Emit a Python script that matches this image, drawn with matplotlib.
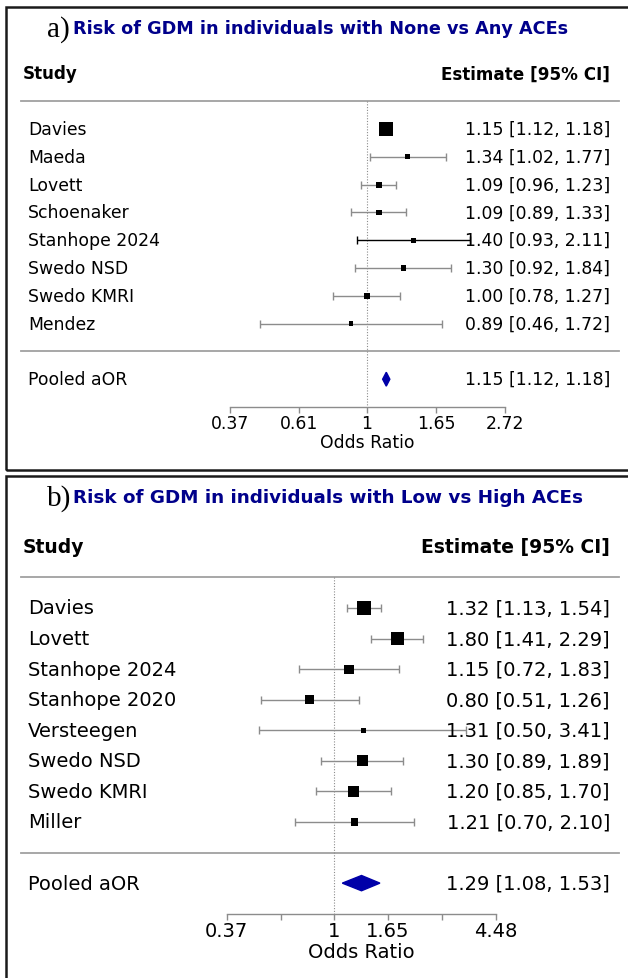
import numpy as np
import matplotlib
matplotlib.use("Agg")
import matplotlib.pyplot as plt
from matplotlib.patches import Polygon, Rectangle
from matplotlib.lines import Line2D
from matplotlib.ticker import NullLocator
import matplotlib.transforms as mtransforms

plt.rcParams['font.family'] = ['DejaVu Sans']

W, H, DPI = 628, 979, 100

# ---------------- data: panel a ----------------
title_a = "Risk of GDM in individuals with None vs Any ACEs"
studies_a = ["Davies", "Maeda", "Lovett", "Schoenaker", "Stanhope 2024",
             "Swedo NSD", "Swedo KMRI", "Mendez"]
or_a = [1.15, 1.34, 1.09, 1.09, 1.40, 1.30, 1.00, 0.89]
lo_a = [1.12, 1.02, 0.96, 0.89, 0.93, 0.92, 0.78, 0.46]
hi_a = [1.18, 1.77, 1.23, 1.33, 2.11, 1.84, 1.27, 1.72]
weight_a = [60, 2, 10, 7, 1.5, 4, 7, 1]
pooled_a = [1.15, 1.12, 1.18]
ticks_a = [0.37, 0.61, 1, 1.65, 2.72]
ticklabels_a = ["0.37", "0.61", "1", "1.65", "2.72"]

# ---------------- data: panel b ----------------
title_b = "Risk of GDM in individuals with Low vs High ACEs"
studies_b = ["Davies", "Lovett", "Stanhope 2024", "Stanhope 2020", "Versteegen",
             "Swedo NSD", "Swedo KMRI", "Miller"]
or_b = [1.32, 1.80, 1.15, 0.80, 1.31, 1.30, 1.20, 1.21]
lo_b = [1.13, 1.41, 0.72, 0.51, 0.50, 0.89, 0.85, 0.70]
hi_b = [1.54, 2.29, 1.83, 1.26, 3.41, 1.89, 1.70, 2.10]
weight_b = [22, 17, 10.5, 10, 1, 14, 14, 7]
pooled_b = [1.29, 1.08, 1.53]
ticks_b = [0.37, 0.61, 1, 1.65, 2.72, 4.48]
ticklabels_b = ["0.37", "", "1", "1.65", "", "4.48"]

fig = plt.figure(figsize=(W / DPI, H / DPI), dpi=DPI)
fig.patch.set_facecolor("white")

GRAY = "#8c8c8c"
NAVY = "#00008B"
DIAMOND = "#0000A8"


def panel(top_px, bot_px, first_row_px, row_px, one_px, unit_px, letter, title,
          studies, ors, los, his, weights, pooled, ticks, ticklabels,
          fs, head_fs, title_fs, letter_fs, side_min, side_max, dark_rows=()):
    ax = fig.add_axes([0, 1 - bot_px / H, 1, (bot_px - top_px) / H])
    ax.set_facecolor("none")
    ax.set_xscale("log")
    ax.set_xlim(np.exp((0 - one_px) / unit_px), np.exp((W - one_px) / unit_px))
    r_top = 1 + (top_px - first_row_px) / row_px
    r_bot = 1 + (bot_px - first_row_px) / row_px
    ax.set_ylim(r_bot, r_top)
    blend = mtransforms.blended_transform_factory(ax.transAxes, ax.transData)

    n = len(studies)
    rows = np.arange(1, n + 1)
    pooled_row = n + 2
    axis_row = n + 3

    # separators
    for yy in (0, n + 1):
        ax.add_line(Line2D([21 / W, 619 / W], [yy, yy], transform=blend,
                           color="#a0a0a0", lw=1.3, zorder=1))
    # reference line at OR = 1
    ax.plot([1, 1], [0, axis_row], color=GRAY, lw=0.8, ls=(0, (1, 1.5)), zorder=1)

    # CIs
    for i in range(n):
        c = "black" if i in dark_rows else GRAY
        ax.errorbar([ors[i]], [rows[i]], xerr=[[ors[i] - los[i]], [his[i] - ors[i]]],
                    fmt="none", ecolor=c, elinewidth=1.0, capsize=3.2,
                    capthick=1.0, zorder=2)
    # boxes
    w = np.asarray(weights, float)
    side_px = side_min + (w - w.min()) / (w.max() - w.min()) * (side_max - side_min)
    side_pt = side_px * 72 / DPI
    ax.scatter(ors, rows, marker="s", s=side_pt ** 2, color="black",
               linewidths=0, zorder=3)

    # pooled diamond
    est, plo, phi = pooled
    hh = 0.25
    ax.add_patch(Polygon([(plo, pooled_row), (est, pooled_row - hh),
                          (phi, pooled_row), (est, pooled_row + hh)],
                         closed=True, color=DIAMOND, zorder=3))

    # text columns
    for i in range(n):
        ax.text(28 / W, rows[i], studies[i], transform=blend, ha="left",
                va="center", fontsize=fs)
        ax.text(610 / W, rows[i], f"{ors[i]:.2f} [{los[i]:.2f}, {his[i]:.2f}]",
                transform=blend, ha="right", va="center", fontsize=fs, zorder=4)
    ax.text(28 / W, pooled_row, "Pooled aOR", transform=blend, ha="left",
            va="center", fontsize=fs)
    ax.text(610 / W, pooled_row, f"{est:.2f} [{plo:.2f}, {phi:.2f}]",
            transform=blend, ha="right", va="center", fontsize=fs)
    ax.text(23 / W, -1, "Study", transform=blend, ha="left", va="center",
            fontsize=head_fs, fontweight="bold")
    ax.text(610 / W, -1, "Estimate [95% CI]", transform=blend, ha="right",
            va="center", fontsize=head_fs, fontweight="bold")

    # title
    ax.text(47 / W, -2.62, letter, transform=blend, ha="left", va="center",
            fontsize=letter_fs, family="Liberation Serif")
    ax.text(73 / W, -2.62, title, transform=blend, ha="left", va="center",
            fontsize=title_fs, fontweight="bold", color=NAVY)

    # x axis
    for s in ("top", "left", "right"):
        ax.spines[s].set_visible(False)
    ax.spines["bottom"].set_position(("data", axis_row))
    ax.spines["bottom"].set_bounds(ticks[0], ticks[-1])
    ax.spines["bottom"].set_color(GRAY)
    ax.spines["bottom"].set_linewidth(1.0)
    ax.set_xticks(ticks)
    ax.set_xticklabels(ticklabels)
    ax.xaxis.set_minor_locator(NullLocator())
    ax.tick_params(axis="x", direction="out", length=4.3, width=1.0,
                   color=GRAY, labelsize=fs, pad=1)
    ax.set_yticks([])
    mid = np.sqrt(ticks[0] * ticks[-1])
    ax.text(mid, axis_row + 1.25, "Odds Ratio", ha="center", va="center",
            fontsize=fs)
    return ax


panel(0, 474, 130, 27.8, 367, 138, "a)", title_a, studies_a, or_a, lo_a, hi_a,
      weight_a, pooled_a, ticks_a, ticklabels_a, fs=12.4, head_fs=12.1,
      title_fs=12.7, letter_fs=21, side_min=4.6, side_max=14.2, dark_rows=(4,))
panel(474, 979, 609, 30.57, 334, 108, "b)", title_b, studies_b, or_b, lo_b, hi_b,
      weight_b, pooled_b, ticks_b, ticklabels_b, fs=14, head_fs=13.5,
      title_fs=13.2, letter_fs=21, side_min=4.7, side_max=14.7)

# panel frames
for (x0, y0, x1, y1) in [(6, 8, 640, 471), (6, 477, 640, 990)]:
    fig.add_artist(Rectangle((x0 / W, 1 - y1 / H), (x1 - x0) / W, (y1 - y0) / H,
                             transform=fig.transFigure, fill=False,
                             ec="#1a1a1a", lw=1.8))

fig.savefig("out.png", dpi=DPI)
